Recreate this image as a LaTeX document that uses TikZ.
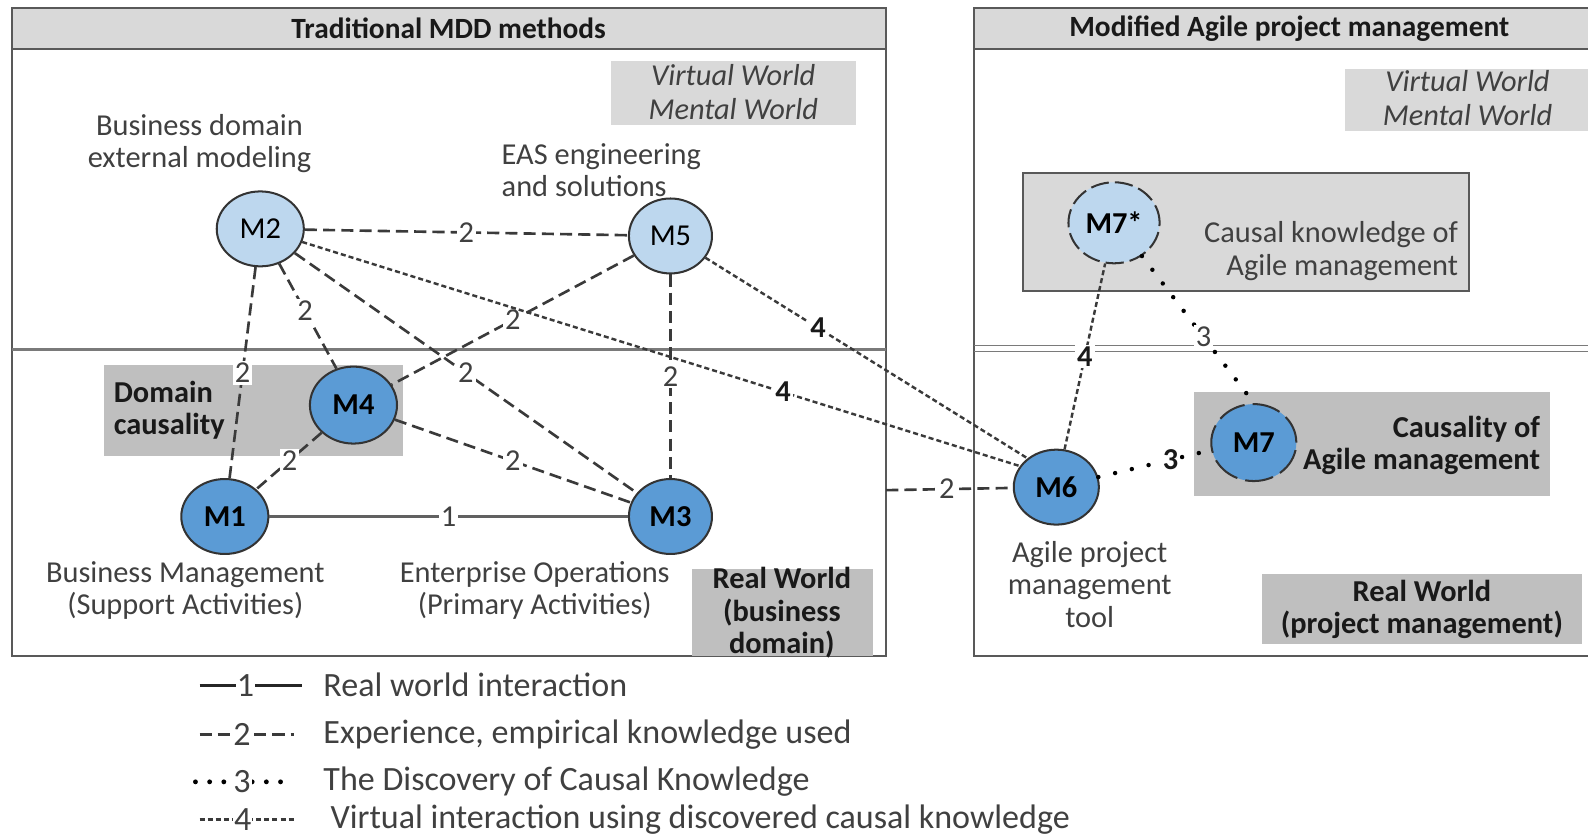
\documentclass[tikz,border=0pt]{standalone}
\usepackage{fontspec}
\setmainfont{Carlito}
\usetikzlibrary{shapes.geometric}
\definecolor{hdr}{HTML}{D9D9D9}
\definecolor{boxg}{HTML}{BFBFBF}
\definecolor{lightblue}{HTML}{BDD7EE}
\definecolor{midblue}{HTML}{5B9BD5}
\definecolor{frame}{HTML}{595959}
\definecolor{txt}{HTML}{404040}
\definecolor{linecol}{HTML}{3A3A3A}
\newcommand{\mainfont}{\fontsize{15}{16}\selectfont}
\newcommand{\legfont}{\fontsize{16.8}{19}\selectfont}
\tikzset{
  panel/.style={draw=frame, line width=1pt},
  hdrbox/.style={draw=frame, line width=1pt, fill=hdr},
  htxt/.style={font=\fontsize{14.5}{16}\selectfont\bfseries, text=black!90, inner sep=0pt},
  ptxt/.style={font=\mainfont, text=txt, align=center, inner sep=0pt},
  btxt/.style={font=\mainfont\bfseries, text=black!90, align=center, inner sep=0pt},
  itxt/.style={font=\mainfont\itshape, text=txt, align=center, inner sep=0pt},
  ltxt/.style={font=\legfont, text=txt, anchor=west, inner sep=0pt},
  mnode/.style={ellipse, draw=black!80, line width=1pt, inner sep=0pt,
    minimum width=43pt, minimum height=37pt, font=\mainfont},
  lb/.style={mnode, fill=lightblue},
  db/.style={mnode, fill=midblue, font=\mainfont\bfseries},
  realln/.style={draw=linecol!80, line width=1.2pt},
  empln/.style={draw=linecol, line width=1.3pt, dash pattern=on 6pt off 3pt},
  virln/.style={draw=linecol, line width=1.2pt, dash pattern=on 2.5pt off 1.5pt},
  discln/.style={draw=black, line width=2.2pt, line cap=round, dash pattern=on 0pt off 8.5pt},
  lab/.style={fill=white, inner sep=1pt, font=\mainfont, text=txt},
  blab/.style={fill=white, inner sep=1pt, font=\mainfont\bfseries, text=black!90},
}
\begin{document}
\begin{tikzpicture}[x=0.5pt,y=-0.5pt]
\useasboundingbox (0,0) rectangle (1568,828);

% ---------- left panel ----------
\draw[panel] (12,8) rectangle (875,648);
\draw[hdrbox] (12,8) rectangle (875,48);
\node[htxt] (t1) at (443,28) {Traditional MDD methods};
\draw[draw=frame!80, line width=1.6pt] (12,345) -- (875,345);
\fill[hdr] (603,60) rectangle (845,123);
\node[itxt] (vm1) at (724,91) {Virtual World\\[0.5pt]Mental World};
\fill[boxg] (103,360) rectangle (398,450);
\node[btxt, anchor=west, align=left] (dc) at (112,405) {Domain\\causality};
\fill[boxg] (683,562) rectangle (862,648);
\node[btxt] (rw1) at (772,605) {Real World\\(business\\domain)};

\node[ptxt] (bdm) at (197,142) {Business domain\\external modeling};
\node[ptxt, anchor=west, align=left] (eas) at (495,168) {EAS engineering\\and solutions};
\node[ptxt] (bm) at (183,583) {Business Management\\(Support Activities)};
\node[ptxt] (eo) at (528,583) {Enterprise Operations\\(Primary Activities)};

% ---------- right panel ----------
\draw[panel] (962,8) rectangle (1590,648);
\draw[hdrbox] (962,8) rectangle (1590,48);
\node[htxt] (t2) at (1273,28) {Modified Agile project management};
\draw[draw=frame!80, line width=0.8pt] (962,341) -- (1590,341);
\draw[draw=frame!80, line width=0.8pt] (962,347) -- (1590,347);
\fill[hdr] (1328,68) rectangle (1590,129);
\node[itxt] (vm2) at (1449,97) {Virtual World\\[0.5pt]Mental World};
\filldraw[fill=hdr, draw=frame, line width=1pt] (1010,171) rectangle (1450,287);
\node[ptxt, anchor=east, align=right] (ck) at (1440,248) {Causal knowledge of\\Agile management};
\fill[boxg] (1179,387) rectangle (1530,490);
\node[btxt, anchor=east, align=right] (ca) at (1521,440) {Causality of\\Agile management};
\fill[boxg] (1246,567) rectangle (1562,636);
\node[btxt] (rw2) at (1404,602) {Real World\\(project management)};
\node[ptxt] (apm) at (1076,577) {Agile project\\management\\tool};

% ---------- model nodes ----------
\node[lb] (M2) at (257,226) {M2};
\node[lb, minimum width=41pt] (M5) at (662,233) {M5};
\node[db, minimum height=38pt] (M4) at (349,400) {M4};
\node[db] (M1) at (222,510) {M1};
\node[db, minimum width=41pt] (M3) at (662,510) {M3};
\node[db, minimum width=42pt] (M6) at (1043,481) {M6};
\node[lb, font=\mainfont\bfseries, minimum width=45pt, minimum height=40pt, dash pattern=on 9pt off 3pt] (M7s) at (1100,220) {M7*};
\node[db, minimum width=42pt, minimum height=38pt, dash pattern=on 14pt off 4pt] (M7) at (1238,437) {M7};
\coordinate (edgeL) at (875,484);

% ---------- connectors ----------
\draw[realln] (M1) -- node[lab, pos=0.5] {1} (M3);
\draw[empln] (M2) -- node[lab, pos=0.5] {2} (M5);
\draw[empln] (M2) -- node[lab, pos=0.5] {2} (M1);
\draw[empln] (M2) -- node[lab, pos=0.45] {2} (M4.115);
\draw[empln] (M2) -- node[lab, pos=0.5] {2} (M3);
\draw[empln] (M5) -- node[lab, pos=0.5] {2} (M4);
\draw[empln] (M5) -- node[lab, pos=0.5] {2} (M3);
\draw[empln] (M4) -- node[lab, pos=0.49] {2} (M1);
\draw[empln] (M4) -- node[lab, pos=0.5] {2} (M3);
\draw[empln] (edgeL) -- node[lab, pos=0.48] {2} (M6);
\draw[virln] (M2) -- node[blab, pos=0.67] {4} (M6.150);
\draw[virln] (M5) -- node[blab, pos=0.35] {4} (M6.135);
\draw[virln] (M6) -- node[blab, pos=0.5] {4} (M7s);
\draw[discln] (M7s.-50) -- node[lab, pos=0.55] {3} (M7.north);
\draw[discln] (M6) -- node[blab, pos=0.64] {3} (M7.190);

% ---------- legend ----------
\coordinate (l1a) at (197,677); \coordinate (l1b) at (298,677);
\coordinate (l2a) at (197,725); \coordinate (l2b) at (290,725);
\coordinate (l3a) at (193,772); \coordinate (l3b) at (285,772);
\coordinate (l4a) at (197,809); \coordinate (l4b) at (292,809);
\draw[realln, draw=black!85] (l1a) -- node[lab, font=\legfont, pos=0.45, inner sep=0.5pt] {1} (l1b);
\draw[empln] (l2a) -- node[lab, font=\legfont, pos=0.45, inner sep=0.5pt] {2} (l2b);
\draw[discln, line width=2.4pt, dash pattern=on 0pt off 7pt] (l3a) -- node[lab, font=\legfont, pos=0.5, inner sep=0.5pt] {3} (l3b);
\draw[virln] (l4a) -- node[lab, font=\legfont, pos=0.45, inner sep=0.5pt] {4} (l4b);
\node[ltxt] (lg1) at (319,676) {Real world interaction};
\node[ltxt] (lg2) at (319,725) {Experience, empirical knowledge used};
\node[ltxt] (lg3) at (319,772) {The Discovery of Causal Knowledge};
\node[ltxt] (lg4) at (326,809) {Virtual interaction using discovered causal knowledge};
\end{tikzpicture}
\end{document}
